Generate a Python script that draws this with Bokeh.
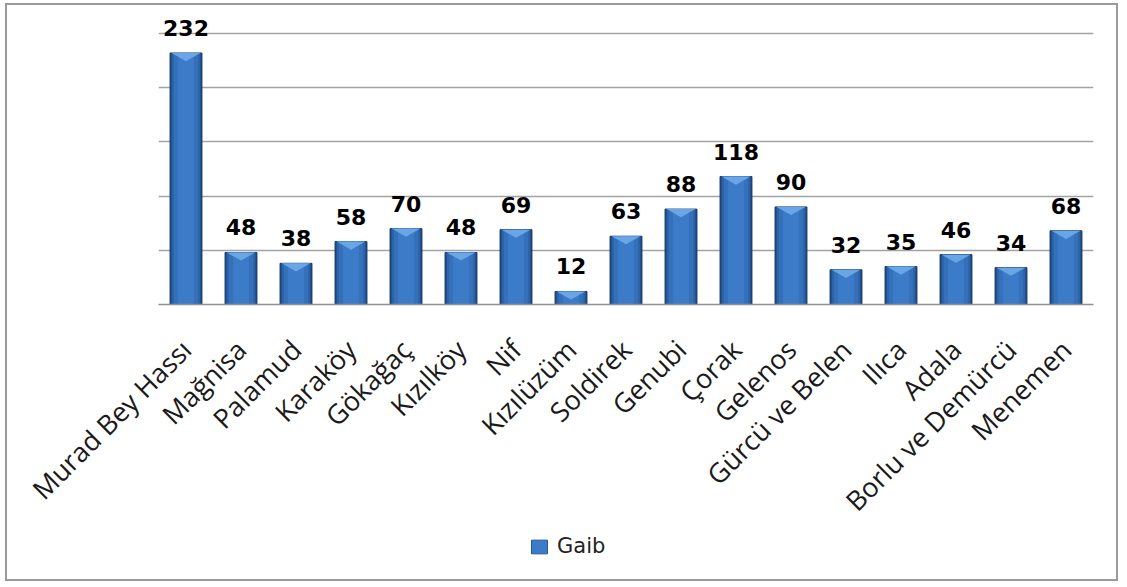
from math import pi

from bokeh.core.properties import value
from bokeh.embed import file_html
from bokeh.models import (ColumnDataSource, FixedTicker, LabelSet, Legend,
                          LegendItem, Range1d)
from bokeh.plotting import figure
from bokeh.resources import INLINE

# Villages / districts and their "Gaib" counts
places = ["Murad Bey Hassı", "Mağnisa", "Palamud", "Karaköy", "Gökağaç",
          "Kızılköy", "Nif", "Kızılüzüm", "Soldirek", "Genubi", "Çorak",
          "Gelenos", "Gürcü ve Belen", "Ilıca", "Adala", "Borlu ve Demürcü",
          "Menemen"]
gaib = [232, 48, 38, 58, 70, 48, 69, 12, 63, 88, 118, 90, 32, 35, 46, 34, 68]
grid_values = [0, 50, 100, 150, 200, 250]

n = len(places)
xs = list(range(n))

BAR_W = 0.58      # full bar width in category units
BEVEL = 7.5       # depth of the light bevel at the bar top (data units)

src = ColumnDataSource(dict(x=xs, top=gaib, label=[str(v) for v in gaib]))

p = figure(frame_width=935, frame_height=294,
           x_range=Range1d(-0.5, n - 0.5), y_range=Range1d(0, 271.2),
           output_backend="svg", toolbar_location=None,
           min_border_left=151, min_border_right=27,
           min_border_top=5, min_border_bottom=0)
p.margin = (3, 0, 0, 5)
# bordered chart box; side panels that reach past it are hidden
p.styles = {"border": "2px solid #9a9a9a", "width": "1113px",
            "height": "578px", "overflow": "hidden"}
p.background_fill_color = "white"
p.border_fill_color = "white"
p.outline_line_color = None

# grid
p.xgrid.visible = False
p.ygrid.ticker = FixedTicker(ticks=grid_values)
p.ygrid.grid_line_color = "#a3a3a3"
p.ygrid.grid_line_width = 1.5
p.yaxis.visible = False

# category axis
p.xaxis.ticker = FixedTicker(ticks=xs)
p.xaxis.major_label_overrides = {i: name for i, name in enumerate(places)}
p.xaxis.major_label_orientation = pi / 4
p.xaxis.major_label_text_font = "Open Sans"
p.xaxis.major_label_text_font_size = "27px"
p.xaxis.major_label_text_color = "#1a1a1a"
p.xaxis.major_label_standoff = 34
p.xaxis.major_tick_line_color = None
p.xaxis.minor_tick_line_color = None
p.xaxis.axis_line_color = "#8f8f8f"
p.xaxis.axis_line_width = 1.5

# shaded cylinder-like bars: dark rim, lighter core
body = p.vbar(x="x", top="top", bottom=0, width=BAR_W, source=src,
              fill_color="#1f4a82", line_color="#173a68", line_width=1)
p.vbar(x="x", top="top", bottom=0, width=BAR_W * 0.9, source=src,
       fill_color="#2c63a8", line_color=None)
p.vbar(x="x", top="top", bottom=0, width=BAR_W * 0.76, source=src,
       fill_color="#3570bb", line_color=None)
mid = p.vbar(x="x", top="top", bottom=0, width=BAR_W * 0.5, source=src,
             fill_color="#3b7bc7", line_color=None)

# light bevel triangle at each bar top
half = BAR_W * 0.45
tri_x = [[x - half, x + half, x] for x in xs]
tri_y = [[v, v, v - BEVEL] for v in gaib]
p.patches(tri_x, tri_y, fill_color="#6aa5e6", line_color=None)

# value labels
labels = LabelSet(x="x", y="top", text="label", source=src,
                  y_offset=17, text_align="center", text_baseline="alphabetic",
                  text_font=value("DejaVu Sans"), text_font_style="bold",
                  text_font_size="22px", text_color="black")
p.add_layout(labels)

# legend lives in the right panel, offset back under the category labels
legend = Legend(items=[LegendItem(label="Gaib", renderers=[body, mid])],
                location=(-564, -254), orientation="horizontal",
                border_line_color=None, background_fill_alpha=0,
                padding=0, margin=0, spacing=0,
                glyph_width=20, glyph_height=17, label_standoff=8,
                label_text_font="DejaVu Sans", label_text_font_size="21px",
                label_text_color="#222222")
p.add_layout(legend, "right")

open("out.html", "w").write(file_html(p, INLINE))
